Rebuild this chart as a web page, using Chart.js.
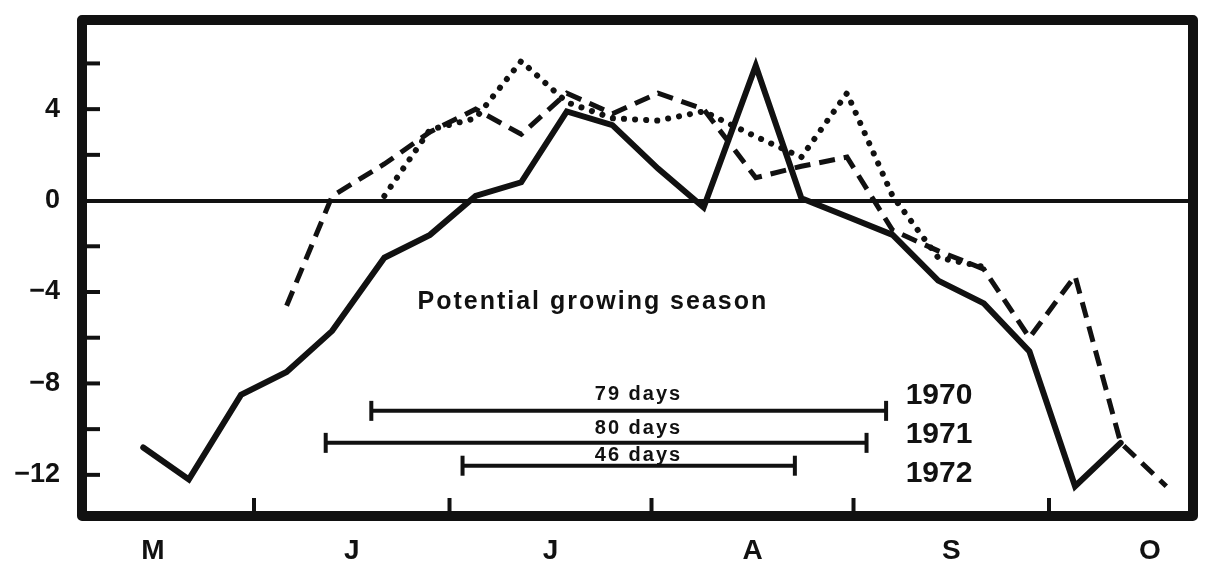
<!DOCTYPE html>
<html>
<head>
<meta charset="utf-8">
<script src="https://cdn.jsdelivr.net/npm/chart.js@4.4.1/dist/chart.umd.min.js"></script>
<style>
  html, body { margin: 0; padding: 0; background: #ffffff; }
  #wrap { width: 1207px; height: 572px; position: relative; }
</style>
</head>
<body>
<div id="wrap"><canvas id="c" width="1207" height="572"></canvas></div>
<script>
// ---- data (x = days after 1 May) ----
const days = [14, 21, 29, 36, 43, 51, 58, 65, 72, 79, 86, 93, 100, 108, 115, 122, 129, 136, 143, 150, 157, 164, 171];
const solidSeries  = [-10.8, -12.2, -8.5, -7.5, -5.7, -2.5, -1.5, 0.2, 0.8, 3.9, 3.3, 1.4, -0.3, 5.9, 0.1, -0.7, -1.5, -3.5, -4.5, -6.6, -12.5, -10.6, null];
const dashedSeries = [null, null, null, -4.6, 0.2, 1.6, 3.0, 4.0, 2.9, 4.7, 3.8, 4.7, 4.0, 1.0, 1.5, 1.9, -1.3, -2.2, -3.0, -6.0, -3.3, -10.6, -12.5];
const dottedSeries = [null, null, null, null, null, 0.2, 3.1, 3.6, 6.1, 4.3, 3.6, 3.5, 3.9, 2.8, 1.9, 4.7, 0.2, -2.5, -2.9, null, null, null, null];

const seasonYears  = ['1970', '1971', '1972'];
const seasonLabels = ['79 days', '80 days', '46 days'];
const seasonStart  = [49, 42, 63];
const seasonEnd    = [128, 125, 114];
const seasonLevel  = [-9.2, -10.6, -11.6];

const monthNames     = ['M', 'J', 'J', 'A', 'S', 'O'];
const monthMid       = [15.5, 46, 76.5, 107.5, 138, 168.5];
const monthBoundary  = [31, 61, 92, 123, 153];
const yTickValues    = [-12, -10, -8, -6, -4, -2, 0, 2, 4, 6];
const yLabelledTicks = [-12, -8, -4, 0, 4];

const titleText = 'Potential growing season';

// ---- annotation placement (data coordinates) ----
const place = {
  title: { x: 83, y: -4.45 },
  seasonLabelX: 90,
  seasonLabelY: [-8.5, -9.95, -11.15],
  yearX: 131,
  yearY: [-8.55, -10.26, -11.93]
};

const toXY = arr => days.map((d, i) => ({ x: d, y: arr[i] }));

const seasonDatasets = seasonYears.map((yr, i) => ({
  label: 'season ' + yr,
  data: [{ x: seasonStart[i], y: seasonLevel[i] }, { x: seasonEnd[i], y: seasonLevel[i] }],
  borderColor: '#111',
  backgroundColor: '#111',
  borderWidth: 4,
  pointStyle: 'line',
  pointRotation: 90,
  pointRadius: 10,
  pointBorderWidth: 4,
  pointHoverRadius: 10,
  tension: 0
}));

const overlay = {
  id: 'overlay',
  afterDatasetsDraw(chart) {
    const { ctx, chartArea: a, scales: { x, y } } = chart;
    ctx.save();
    ctx.strokeStyle = '#111';
    ctx.fillStyle = '#111';
    // inward tick marks on y axis
    ctx.lineWidth = 4;
    ctx.lineCap = 'butt';
    yTickValues.forEach(v => {
      if (v === 0) return;
      const py = y.getPixelForValue(v);
      ctx.beginPath();
      ctx.moveTo(a.left, py);
      ctx.lineTo(a.left + 18, py);
      ctx.stroke();
    });
    // inward tick marks on x axis (month boundaries)
    monthBoundary.forEach(d => {
      const px = x.getPixelForValue(d);
      ctx.beginPath();
      ctx.moveTo(px, a.bottom);
      ctx.lineTo(px, a.bottom - 18);
      ctx.stroke();
    });
    // title text
    ctx.textAlign = 'center';
    ctx.textBaseline = 'middle';
    ctx.font = 'bold 25px "Liberation Sans", Arial, sans-serif';
    try { ctx.letterSpacing = '2px'; } catch (e) {}
    ctx.fillText(titleText, x.getPixelForValue(place.title.x), y.getPixelForValue(place.title.y));
    // season labels
    ctx.font = 'bold 20px "Liberation Sans", Arial, sans-serif';
    try { ctx.letterSpacing = '2px'; } catch (e) {}
    seasonLabels.forEach((t, i) => {
      ctx.fillText(t, x.getPixelForValue(place.seasonLabelX), y.getPixelForValue(place.seasonLabelY[i]));
    });
    // year labels
    try { ctx.letterSpacing = '0px'; } catch (e) {}
    ctx.textAlign = 'left';
    ctx.font = 'bold 30px "Liberation Sans", Arial, sans-serif';
    seasonYears.forEach((t, i) => {
      ctx.fillText(t, x.getPixelForValue(place.yearX), y.getPixelForValue(place.yearY[i]));
    });
    // heavy frame
    ctx.lineWidth = 10;
    ctx.lineJoin = 'round';
    ctx.strokeRect(a.left, a.top, a.right - a.left, a.bottom - a.top);
    ctx.restore();
  }
};

new Chart(document.getElementById('c'), {
  type: 'line',
  data: {
    datasets: [
      {
        label: 'solid',
        data: toXY(solidSeries),
        borderColor: '#111',
        borderWidth: 6,
        pointRadius: 0,
        tension: 0,
        borderJoinStyle: 'miter',
        borderCapStyle: 'round'
      },
      {
        label: 'dashed',
        data: toXY(dashedSeries),
        borderColor: '#111',
        borderWidth: 5,
        borderDash: [16, 9],
        pointRadius: 0,
        tension: 0,
        borderJoinStyle: 'miter'
      },
      {
        label: 'dotted',
        data: toXY(dottedSeries),
        borderColor: '#111',
        borderWidth: 6,
        borderDash: [0.1, 11],
        borderCapStyle: 'round',
        pointRadius: 0,
        tension: 0
      },
      ...seasonDatasets
    ]
  },
  options: {
    responsive: false,
    animation: false,
    events: [],
    layout: { padding: { top: 20, right: 7, left: 0, bottom: 0 } },
    plugins: { legend: { display: false }, tooltip: { enabled: false }, title: { display: false } },
    scales: {
      x: {
        type: 'linear',
        min: 4.6,
        max: 175.1,
        border: { display: false },
        grid: { display: false, drawTicks: false },
        afterBuildTicks: s => { s.ticks = monthMid.map(v => ({ value: v })); },
        afterFit: s => { s.height = 56; s.paddingLeft = 0; s.paddingRight = 0; },
        ticks: {
          autoSkip: false,
          maxRotation: 0,
          padding: 18,
          color: '#111',
          font: { family: '"Liberation Sans Narrow", "Liberation Sans", Arial, sans-serif', size: 28, weight: 'bold' },
          callback: (v, i) => monthNames[i]
        }
      },
      y: {
        type: 'linear',
        min: -13.8,
        max: 7.9,
        border: { display: false },
        grid: {
          drawTicks: false,
          color: c => (c.tick && c.tick.value === 0) ? '#111' : 'rgba(0,0,0,0)',
          lineWidth: c => (c.tick && c.tick.value === 0) ? 4 : 0
        },
        afterBuildTicks: s => { s.ticks = yTickValues.map(v => ({ value: v })); },
        afterFit: s => { s.width = 82; s.paddingTop = 0; s.paddingBottom = 0; },
        ticks: {
          autoSkip: false,
          padding: 22,
          color: '#111',
          font: { family: '"Liberation Sans", Arial, sans-serif', size: 27, weight: 'bold' },
          callback: v => yLabelledTicks.includes(v) ? (v < 0 ? '\u2212' + Math.abs(v) : String(v)) : ''
        }
      }
    }
  },
  plugins: [overlay]
});
</script>
</body>
</html>
